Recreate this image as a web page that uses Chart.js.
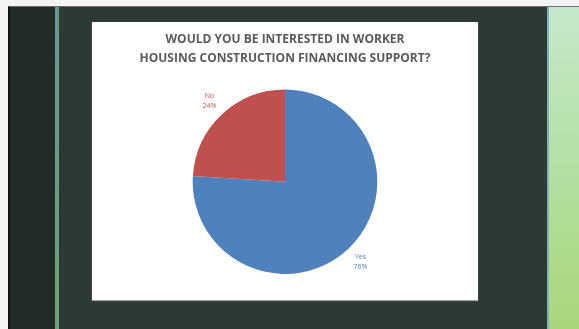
<!DOCTYPE html>
<html>
<head>
<meta charset="utf-8">
<script src="https://cdn.jsdelivr.net/npm/chart.js@4"></script>
<style>
  html, body { margin: 0; padding: 0; background: #f4f4f4; }
  #slide { position: relative; width: 579px; height: 329px; overflow: hidden; }
  .frame { position: absolute; left: 8px; top: 6px; right: 0; bottom: 0;
           background: #2d3a34; border-top: 1px solid #6b6b6b; border-left: 2px solid #0e1411; }
  .side { position: absolute; left: 10px; top: 7px; width: 45px; bottom: 0; background: #212c27; }
  .rule { position: absolute; left: 55px; top: 7px; width: 4px; bottom: 0;
          background: linear-gradient(#6a9792, #6fa079); }
  .edge { position: absolute; left: 547px; top: 7px; width: 2px; bottom: 0; background: #7fb1b6; }
  .green { position: absolute; left: 549px; top: 7px; right: 0; bottom: 0;
           background: linear-gradient(#c6e8cc, #b6e0a6 45%, #a9d67a); }
  .card { position: absolute; left: 92px; top: 22px; width: 386px; height: 278px;
          background: #fff; box-shadow: 0 1px 1px #9a9a9a; }
</style>
</head>
<body>
<div id="slide">
  <div class="frame"></div>
  <div class="side"></div>
  <div class="rule"></div>
  <div class="edge"></div>
  <div class="green"></div>
  <div class="card"><canvas id="pie" width="386" height="278"></canvas></div>
</div>
<script>
const titleLines = ['WOULD YOU BE INTERESTED IN WORKER', 'HOUSING CONSTRUCTION FINANCING SUPPORT?'];
const answers = ['Yes', 'No'];
const shares = [76, 24];
const sliceColors = ['#4f81bd', '#c0504d'];

// category name + percent just outside each slice
const outsideLabels = {
  id: 'outsideLabels',
  afterDatasetsDraw(chart) {
    const ctx = chart.ctx;
    const meta = chart.getDatasetMeta(0);
    ctx.save();
    ctx.font = '7px "Open Sans", sans-serif';
    ctx.textAlign = 'center';
    ctx.textBaseline = 'middle';
    meta.data.forEach((arc, i) => {
      const mid = (arc.startAngle + arc.endAngle) / 2;
      const r = arc.outerRadius + 18;
      const x = arc.x + Math.cos(mid) * r;
      const y = arc.y + Math.sin(mid) * r;
      ctx.fillStyle = sliceColors[i];
      ctx.fillText(chart.data.labels[i], x, y - 5);
      ctx.fillText(shares[i] + '%', x, y + 5);
    });
    ctx.restore();
  }
};

new Chart(document.getElementById('pie'), {
  type: 'pie',
  data: {
    labels: answers,
    datasets: [{
      data: shares,
      backgroundColor: sliceColors,
      borderWidth: 0
    }]
  },
  options: {
    responsive: false,
    animation: false,
    layout: { padding: { bottom: 26 } },
    plugins: {
      legend: { display: false },
      tooltip: { enabled: false },
      title: {
        display: true,
        text: titleLines,
        color: '#5a5a5a',
        font: { family: '"Open Sans", sans-serif', size: 12, weight: 'bold', lineHeight: 1.6 },
        padding: { top: 8, bottom: 21 }
      }
    }
  },
  plugins: [outsideLabels]
});
</script>
</body>
</html>
